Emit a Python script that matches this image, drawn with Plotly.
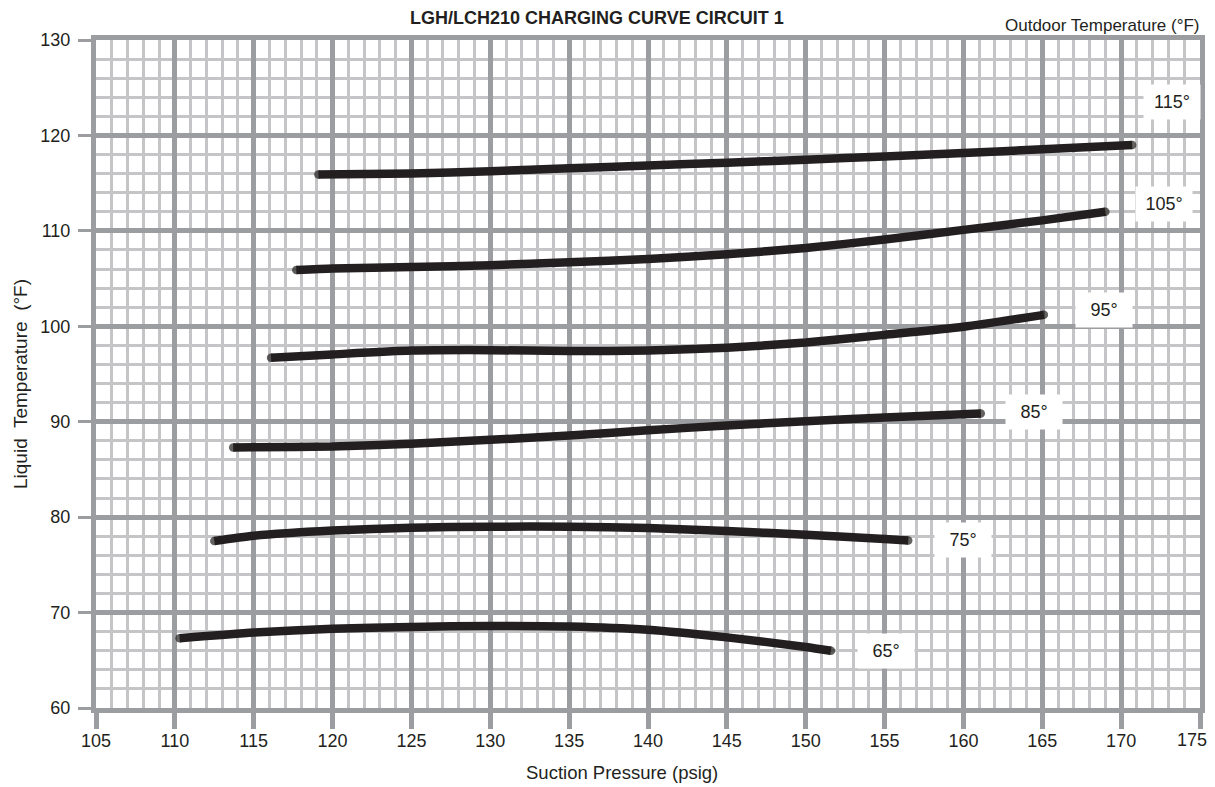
import plotly.graph_objects as go

# ---------------- data ----------------
x_range = [105, 175]
y_range = [60, 130]
x_ticks = [105, 110, 115, 120, 125, 130, 135, 140, 145, 150, 155, 160, 165, 170, 175]
y_ticks = [60, 70, 80, 90, 100, 110, 120, 130]

curve_names = ["115°", "105°", "95°", "85°", "75°", "65°"]

c115_x = [119.1, 125, 130, 135, 140, 145, 150, 155, 160, 165, 170.7]
c115_y = [115.9, 116.0, 116.25, 116.55, 116.85, 117.15, 117.45, 117.8, 118.15, 118.55, 119.0]

c105_x = [117.7, 120, 125, 130, 135, 140, 145, 150, 155, 160, 165, 169.0]
c105_y = [105.9, 106.05, 106.2, 106.4, 106.7, 107.05, 107.55, 108.2, 109.1, 110.1, 111.1, 112.0]

c95_x = [116.1, 120, 125, 130, 135, 140, 145, 150, 155, 160, 165.1]
c95_y = [96.7, 97.05, 97.45, 97.5, 97.4, 97.45, 97.75, 98.3, 99.1, 99.95, 101.2]

c85_x = [113.7, 115, 120, 125, 130, 135, 140, 145, 150, 155, 161.1]
c85_y = [87.3, 87.33, 87.4, 87.7, 88.1, 88.55, 89.1, 89.6, 90.05, 90.45, 90.85]

c75_x = [112.5, 115, 120, 125, 130, 135, 140, 145, 150, 155, 156.5]
c75_y = [77.5, 78.05, 78.6, 78.9, 79.0, 79.0, 78.85, 78.55, 78.15, 77.7, 77.55]

c65_x = [110.3, 115, 120, 125, 130, 135, 140, 145, 150, 151.6]
c65_y = [67.3, 67.9, 68.3, 68.5, 68.6, 68.55, 68.2, 67.4, 66.4, 66.0]

curves_x = [c115_x, c105_x, c95_x, c85_x, c75_x, c65_x]
curves_y = [c115_y, c105_y, c95_y, c85_y, c75_y, c65_y]

# label anchor points (data coords)
label_x = [173.2, 172.7, 168.9, 164.5, 160.0, 155.1]
label_y = [123.5, 112.8, 101.7, 91.0, 77.6, 66.0]

# ---------------- style ----------------
FONT = "Liberation Sans, Arial, Helvetica, sans-serif"
INK = "#231f20"
MAJOR = "#9c9da1"
MINOR = "#c5c5c7"
LW = 8.5

fig = go.Figure()
for xs, ys, name in zip(curves_x, curves_y, curve_names):
    sizes = [LW] + [0] * (len(xs) - 2) + [LW]
    fig.add_trace(go.Scatter(
        x=xs, y=ys, name=name, mode="lines+markers",
        line=dict(color=INK, width=LW, shape="spline", smoothing=0.6),
        marker=dict(size=sizes, color=INK, line=dict(width=0)),
        showlegend=False, hoverinfo="skip",
    ))

for t, lx, ly in zip(curve_names, label_x, label_y):
    fig.add_annotation(x=lx, y=ly, xref="x", yref="y", text=t, showarrow=False,
                       font=dict(family=FONT, size=18, color=INK),
                       bgcolor="white", width=50, height=28, borderpad=3,
                       xanchor="center", yanchor="middle")

# x tick labels: last one drawn as annotation, nudged inward so it stays on the page
x_ticktext = [str(v) for v in x_ticks]
last_tick_text = x_ticktext[-1]
x_ticktext[-1] = ""
fig.add_annotation(x=x_ticks[-1], xref="x", y=0, yref="paper", yshift=-32, xshift=-8,
                   text=last_tick_text, showarrow=False, xanchor="center", yanchor="middle",
                   font=dict(family=FONT, size=18, color=INK))

fig.add_annotation(text="LGH/LCH210 CHARGING CURVE CIRCUIT 1", xref="paper", yref="paper",
                   x=0.4538, y=1.0, yshift=22, showarrow=False, xanchor="center", yanchor="middle",
                   font=dict(family=FONT, size=18, color=INK, weight="bold"))
fig.add_annotation(text="Outdoor Temperature (°F)", xref="paper", yref="paper",
                   x=1.0, y=1.0, xshift=2, yshift=15, showarrow=False, xanchor="right", yanchor="middle",
                   font=dict(family=FONT, size=17, color=INK))
fig.add_annotation(text="Suction Pressure (psig)", xref="paper", yref="paper",
                   x=0.4764, y=0, yshift=-64, showarrow=False, xanchor="center", yanchor="middle",
                   font=dict(family=FONT, size=18.5, color=INK))
fig.add_annotation(text="Liquid\u00a0 Temperature\u00a0 (°F)", xref="paper", yref="paper",
                   x=0, y=0.5, xshift=-76, yshift=-10, showarrow=False, textangle=-90,
                   xanchor="center", yanchor="middle",
                   font=dict(family=FONT, size=19, color=INK))

axis_common = dict(
    showgrid=True, gridcolor=MAJOR, gridwidth=5,
    showline=True, mirror=True, linecolor=MAJOR, linewidth=5,
    zeroline=False, ticks="outside", tickcolor=MAJOR,
    tickfont=dict(family=FONT, size=18, color=INK),
    fixedrange=True, automargin=False, ticklabeloverflow="allow",
)
fig.update_xaxes(range=x_range, tickvals=x_ticks, ticktext=x_ticktext, ticklen=16, tickwidth=5,
                 ticklabelstandoff=-4,
                 minor=dict(dtick=1, showgrid=True, gridcolor=MINOR, gridwidth=3, ticks=""),
                 **axis_common)
fig.update_yaxes(range=y_range, tickvals=y_ticks, ticklen=13, tickwidth=3,
                 ticklabelstandoff=4,
                 minor=dict(dtick=2, showgrid=True, gridcolor=MINOR, gridwidth=3, ticks=""),
                 **axis_common)

fig.update_layout(
    width=1207, height=779,
    margin=dict(l=88, r=15, t=32, b=79),
    paper_bgcolor="white", plot_bgcolor="white",
    font=dict(family=FONT, color=INK),
)

fig.write_html("out.html")
